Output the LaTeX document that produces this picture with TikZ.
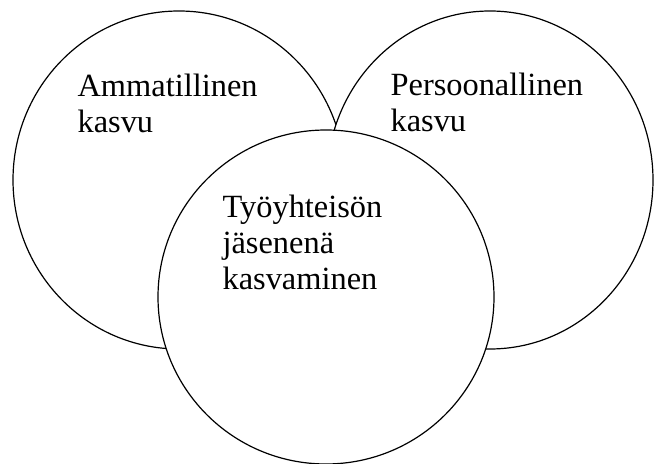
\documentclass[tikz,border=0pt]{standalone}
\usepackage{fontspec}
\setmainfont{Liberation Serif}
\usetikzlibrary{shapes.geometric}

\begin{document}
\begin{tikzpicture}[x=0.5pt,y=-0.5pt,line width=0.6pt,
  circ/.style={draw,ellipse,fill=white,inner sep=0pt,outer sep=0pt},
  lbl/.style={anchor=base west,align=left,inner sep=0pt,
    font=\fontsize{16.2}{18.2}\selectfont}]
  \useasboundingbox (0,0) rectangle (654,464);
  % kolme kasvun aluetta
  \node[circ,minimum width=166pt,minimum height=169pt] (amm) at (179,180) {};
  \node[circ,minimum width=163pt,minimum height=169pt] (pers) at (490,180) {};
  \node[circ,minimum width=168pt,minimum height=167pt] (tyo) at (326,297) {};
  % tekstit (ankkuri viimeisen rivin peruslinjalla)
  \node[lbl] (ammtxt) at (77,133) {Ammatillinen\\kasvu};
  \node[lbl] (perstxt) at (390,132) {Persoonallinen\\kasvu};
  \node[lbl] (tyotxt) at (222,290) {Työyhteisön\\jäsenenä\\kasvaminen};
\end{tikzpicture}
\end{document}
